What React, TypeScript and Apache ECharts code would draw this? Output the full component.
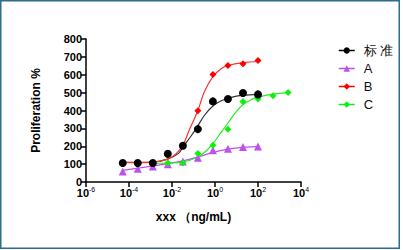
import React, { useEffect, useRef } from "react";
import * as echarts from "echarts";

// Concentrations (ng/mL), 5-fold serial dilutions
const concStd = [0.0000512, 0.000256, 0.00128, 0.0064, 0.032, 0.16, 0.8, 4, 20, 100];
const concA = [0.0000512, 0.000256, 0.00128, 0.0064, 0.032, 0.16, 0.8, 4, 20, 100];
const concB = [0.0000512, 0.000256, 0.00128, 0.0064, 0.032, 0.16, 0.8, 4, 20, 100];
const concC = [0.00128, 0.0064, 0.032, 0.16, 0.8, 4, 20, 100, 500, 2500];

// Measured proliferation (%)
const valStd = [106, 106, 106, 158, 203, 296, 451, 464, 498, 490];
const valA = [59, 74, 87, 100, 115, 136, 177, 186, 196, 199];
const valB = [107, 107, 108, 150, 203, 399, 602, 652, 662, 680];
const valC = [105, 106, 106, 160, 205, 295, 451, 464, 483, 501];

// Fitted dose-response curves: [concentration, %]
const fitStd: [number, number][] = [
  [0.0000512, 110], [0.00025, 110], [0.00125, 112], [0.0063, 128], [0.02, 160], [0.032, 195],
  [0.08, 260], [0.16, 315], [0.32, 372], [0.8, 425], [2, 455], [4, 468], [10, 480], [20, 485], [100, 490],
];
const fitA: [number, number][] = [
  [0.0000512, 65], [0.00025, 77], [0.00125, 90], [0.0063, 103], [0.032, 118], [0.16, 140],
  [0.8, 166], [4, 184], [20, 194], [100, 198],
];
const fitB: [number, number][] = [
  [0.0000512, 108], [0.001, 110], [0.0063, 128], [0.016, 160], [0.032, 205], [0.063, 290],
  [0.16, 400], [0.32, 505], [0.8, 590], [2, 635], [4, 652], [20, 668], [100, 674],
];
const fitC: [number, number][] = [
  [0.00128, 105], [0.0063, 106], [0.032, 112], [0.16, 140], [0.4, 175], [0.8, 215],
  [2, 280], [4, 330], [10, 395], [20, 432], [50, 462], [100, 475], [500, 492], [2500, 500],
];

const legendNames = ["标 准", "A", "B", "C"];
const colors = ["#000000", "#c04ff0", "#ff0000", "#11ee11"];
const symbols = ["circle", "triangle", "diamond", "diamond"];
const symbolSizes = [8, 8, 7, 7];

const yTicks = { min: 0, max: 800, interval: 100 };
// x axis: decades 10^-6 .. 10^4, labelled every second decade
const xRange = { min: 1e-6, max: 1e4, decadeStep: 2 };

function pairs(xs: number[], ys: number[]): [number, number][] {
  return xs.map((x, i) => [x, ys[i]]);
}

export default function App() {
  const ref = useRef<HTMLDivElement>(null);

  useEffect(() => {
    if (!ref.current) return;
    const chart = echarts.init(ref.current, undefined, { renderer: "svg" });

    const markerData = [
      pairs(concStd, valStd),
      pairs(concA, valA),
      pairs(concB, valB),
      pairs(concC, valC),
    ];
    const fits = [fitStd, fitA, fitB, fitC];
    const fitColors = ["#333333", "#c04ff0", "#ff3030", "#22ee22"];

    const fitSeries = fits.map((d, i) => ({
      name: legendNames[i] + "-fit",
      type: "line",
      data: d,
      smooth: 0.4,
      showSymbol: false,
      symbol: "none",
      silent: true,
      z: 2,
      lineStyle: { color: fitColors[i], width: 1.2 },
    }));

    // black drawn last so it covers the overlapping red/green points
    const order = [1, 3, 2, 0];
    const markerSeries = order.map((i) => ({
      name: legendNames[i],
      type: "line",
      data: markerData[i],
      symbol: symbols[i],
      symbolSize: symbolSizes[i],
      showSymbol: true,
      z: 3 + (i === 0 ? 1 : 0),
      itemStyle: { color: colors[i] },
      lineStyle: { color: colors[i], width: 0 },
    }));

    const font = "Arial, Liberation Sans, sans-serif";

    chart.setOption({
      animation: false,
      backgroundColor: "#ffffff",
      graphic: [
        {
          type: "rect",
          shape: { x: 0.75, y: 0.75, width: 398.5, height: 247.5 },
          style: { fill: "none", stroke: "#2b6d8d", lineWidth: 1.5 },
          silent: true,
        },
      ],
      grid: { left: 86, right: 102, top: 39, bottom: 68 },
      legend: {
        data: legendNames,
        orient: "vertical",
        left: 333,
        top: 39,
        itemWidth: 16,
        itemHeight: 8,
        itemGap: 5,
        lineStyle: { width: 1.5 },
        textStyle: {
          fontFamily: font,
          fontSize: 13,
          color: "#111",
          padding: [0, 0, 0, 4],
        },
      },
      xAxis: {
        type: "log",
        logBase: 10,
        min: xRange.min,
        max: xRange.max,
        interval: xRange.decadeStep,
        name: "xxx （ng/mL)",
        nameLocation: "middle",
        nameGap: 29,
        nameTextStyle: { fontFamily: font, fontWeight: "bold", fontSize: 12, color: "#000" },
        axisLine: { lineStyle: { color: "#000", width: 1.5 } },
        axisTick: { show: true, length: 5, lineStyle: { color: "#000", width: 1.5 } },
        minorTick: { show: false },
        splitLine: { show: false },
        axisLabel: {
          margin: 4,
          formatter: (v: number) => `{b|10}{s|${Math.round(Math.log10(v))}}`,
          rich: {
            b: { fontFamily: font, fontWeight: "bold", fontSize: 11, color: "#000" },
            s: { fontFamily: font, fontSize: 7, color: "#000", padding: [0, 0, 7, 0] },
          },
        },
      },
      yAxis: {
        type: "value",
        min: yTicks.min,
        max: yTicks.max,
        interval: yTicks.interval,
        name: "Proliferation %",
        nameLocation: "middle",
        nameGap: 44,
        nameTextStyle: { fontFamily: font, fontWeight: "bold", fontSize: 12, color: "#000" },
        axisLine: { show: true, lineStyle: { color: "#000", width: 1.5 } },
        axisTick: { show: true, length: 5, lineStyle: { color: "#000", width: 1.5 } },
        splitLine: { show: false },
        axisLabel: { margin: 4, fontFamily: font, fontWeight: "bold", fontSize: 11, color: "#000" },
      },
      series: [...fitSeries, ...markerSeries],
    });

    return () => chart.dispose();
  }, []);

  return (
    <div ref={ref} style={{ position: "fixed", left: 0, top: 0, width: 403, height: 250 }} />
  );
}
